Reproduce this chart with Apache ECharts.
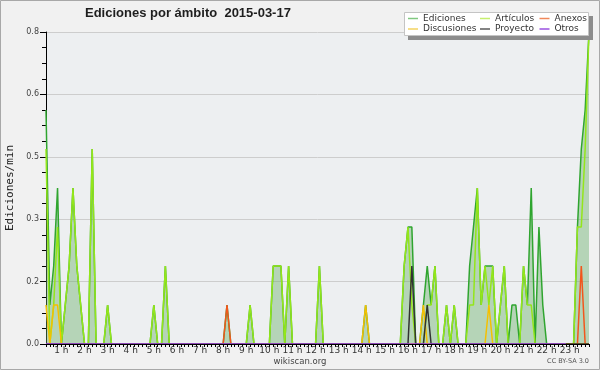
<!DOCTYPE html>
<html><head><meta charset="utf-8">
<script src="https://cdn.jsdelivr.net/npm/echarts/dist/echarts.min.js"></script>
<style>html,body{margin:0;padding:0;background:#f1f1f1}#c{width:600px;height:370px}</style>
</head><body><div id="c"></div>
<script>
// 10-minute bins, 00:20 .. 23:50
const times = [
'00:20','00:30','00:40','00:50',
'01:00','01:10','01:20','01:30','01:40','01:50',
'02:00','02:10','02:20','02:30','02:40','02:50',
'03:00','03:10','03:20','03:30','03:40','03:50',
'04:00','04:10','04:20','04:30','04:40','04:50',
'05:00','05:10','05:20','05:30','05:40','05:50',
'06:00','06:10','06:20','06:30','06:40','06:50',
'07:00','07:10','07:20','07:30','07:40','07:50',
'08:00','08:10','08:20','08:30','08:40','08:50',
'09:00','09:10','09:20','09:30','09:40','09:50',
'10:00','10:10','10:20','10:30','10:40','10:50',
'11:00','11:10','11:20','11:30','11:40','11:50',
'12:00','12:10','12:20','12:30','12:40','12:50',
'13:00','13:10','13:20','13:30','13:40','13:50',
'14:00','14:10','14:20','14:30','14:40','14:50',
'15:00','15:10','15:20','15:30','15:40','15:50',
'16:00','16:10','16:20','16:30','16:40','16:50',
'17:00','17:10','17:20','17:30','17:40','17:50',
'18:00','18:10','18:20','18:30','18:40','18:50',
'19:00','19:10','19:20','19:30','19:40','19:50',
'20:00','20:10','20:20','20:30','20:40','20:50',
'21:00','21:10','21:20','21:30','21:40','21:50',
'22:00','22:10','22:20','22:30','22:40','22:50',
'23:00','23:10','23:20','23:30','23:40','23:50'
];
const ediciones = [
0.6,0.1,0.2,0.4,
0,0.1,0.2,0.4,0.2,0.1,
0,0,0.5,0,0,0,
0.1,0,0,0,0,0,
0,0,0,0,0,0,
0.1,0,0,0.2,0,0,
0,0,0,0,0,0,
0,0,0,0,0,0,
0,0.1,0,0,0,0,
0,0.1,0,0,0,0,
0,0.2,0.2,0.2,0,0.2,
0,0,0,0,0,0,
0,0.2,0,0,0,0,
0,0,0,0,0,0,
0,0.1,0,0,0,0,
0,0,0,0,0,0.2,
0.3,0.3,0,0,0.1,0.2,
0.1,0.2,0,0,0.1,0,
0.1,0,0,0,0.2,0.3,
0.4,0.1,0.2,0.2,0.2,0,
0.1,0.2,0,0.1,0.1,0,
0.2,0.1,0.4,0,0.3,0.1,
0,0,0,0,0,0,
0,0,0.3,0.5,0.6,0.8
];
const articulos = [
0.5,0,0.1,0.3,
0,0.1,0.2,0.4,0.2,0.1,
0,0,0.5,0,0,0,
0.1,0,0,0,0,0,
0,0,0,0,0,0,
0.1,0,0,0.2,0,0,
0,0,0,0,0,0,
0,0,0,0,0,0,
0,0,0,0,0,0,
0,0.1,0,0,0,0,
0,0.2,0.2,0.2,0,0.2,
0,0,0,0,0,0,
0,0.2,0,0,0,0,
0,0,0,0,0,0,
0,0,0,0,0,0,
0,0,0,0,0,0.2,
0.3,0.1,0,0,0,0.1,
0.1,0.2,0,0,0.1,0,
0.1,0,0,0,0.1,0.1,
0.4,0.1,0.2,0.1,0.2,0,
0.1,0.2,0,0,0,0,
0.2,0.1,0.1,0,0,0,
0,0,0,0,0,0,
0,0,0.3,0.3,0.5,0.8
];
const anexos = [
0,0,0,0,
0,0,0,0,0,0, 0,0,0,0,0,0, 0,0,0,0,0,0, 0,0,0,0,0,0,
0,0,0,0,0,0, 0,0,0,0,0,0, 0,0,0,0,0,0,
0,0.1,0,0,0,0,
0,0,0,0,0,0, 0,0,0,0,0,0, 0,0,0,0,0,0, 0,0,0,0,0,0,
0,0,0,0,0,0, 0,0,0,0,0,0, 0,0,0,0,0,0, 0,0,0,0,0,0,
0,0,0,0,0,0, 0,0,0,0,0,0, 0,0,0,0,0,0, 0,0,0,0,0,0,
0,0,0,0,0,0, 0,0,0,0,0,0,
0,0,0,0.2,0,0
];
const discusiones = [
0.1,0,0.1,0.1,
0,0,0,0,0,0, 0,0,0,0,0,0, 0,0,0,0,0,0, 0,0,0,0,0,0,
0,0,0,0,0,0, 0,0,0,0,0,0, 0,0,0,0,0,0, 0,0,0,0,0,0,
0,0,0,0,0,0, 0,0,0,0,0,0, 0,0,0,0,0,0, 0,0,0,0,0,0,
0,0,0,0,0,0,
0,0.1,0,0,0,0,
0,0,0,0,0,0,
0,0,0,0,0.1,0,
0,0,0,0,0,0, 0,0,0,0,0,0,
0,0,0,0.1,0,0,
0,0,0,0,0,0, 0,0,0,0,0,0, 0,0,0,0,0,0, 0,0,0,0,0,0
];
const proyecto = [
0,0,0,0,
0,0,0,0,0,0, 0,0,0,0,0,0, 0,0,0,0,0,0, 0,0,0,0,0,0,
0,0,0,0,0,0, 0,0,0,0,0,0, 0,0,0,0,0,0, 0,0,0,0,0,0,
0,0,0,0,0,0, 0,0,0,0,0,0, 0,0,0,0,0,0, 0,0,0,0,0,0,
0,0,0,0,0,0, 0,0,0,0,0,0, 0,0,0,0,0,0,
0,0.2,0,0,0,0.1,
0,0,0,0,0,0, 0,0,0,0,0,0, 0,0,0,0,0,0, 0,0,0,0,0,0,
0,0,0,0,0,0, 0,0,0,0,0,0, 0,0,0,0,0,0
];
const otros = [
0,0,0,0,
0,0,0,0,0,0, 0,0,0,0,0,0, 0,0,0,0,0,0, 0,0,0,0,0,0,
0,0,0,0,0,0, 0,0,0,0,0,0, 0,0,0,0,0,0, 0,0,0,0,0,0,
0,0,0,0,0,0, 0,0,0,0,0,0, 0,0,0,0,0,0, 0,0,0,0,0,0,
0,0,0,0,0,0, 0,0,0,0,0,0, 0,0,0,0,0,0, 0,0,0,0,0,0,
0,0,0,0,0,0, 0,0,0,0,0,0, 0,0,0,0,0,0, 0,0,0,0,0,0,
0,0,0,0,0,0, 0,0,0,0,0,0
];
const yTicks = {min: 0, max: 0.8, step: 0.16};

const chart = echarts.init(document.getElementById('c'), null, {renderer: 'canvas'});
const font = 'DejaVu Sans';
function line(name, data, color, extra) {
  return Object.assign({
    name: name, type: 'line', data: data, symbol: 'none', showSymbol: false,
    lineStyle: {color: color, width: 1.5}, itemStyle: {color: color},
    emphasis: {disabled: true}, z: 2
  }, extra || {});
}
const legendBase = {
  orient: 'vertical', top: 13.5, padding: 0, itemGap: 0.5, itemWidth: 10, itemHeight: 1.5,
  icon: 'rect', selectedMode: false, z: 7,
  textStyle: {fontFamily: font, fontSize: 9, color: '#333', lineHeight: 10}
};
chart.setOption({
  animation: false,
  backgroundColor: '#f1f1f1',
  title: {
    text: 'Ediciones por ámbito  2015-03-17', left: 85, top: 6.5, padding: 0,
    textStyle: {fontFamily: 'Liberation Sans', fontWeight: 'bold', fontSize: 13, color: '#1e1e1e'}
  },
  legend: [
    Object.assign({}, legendBase, {left: 408, data: [
      {name: 'Ediciones', itemStyle: {color: '#80c880'}},
      {name: 'Discusiones', itemStyle: {color: '#f3d361'}}]}),
    Object.assign({}, legendBase, {left: 480, data: [
      {name: 'Artículos', itemStyle: {color: '#c6ef6e'}},
      {name: 'Proyecto', itemStyle: {color: '#5a5a5a'}}]}),
    Object.assign({}, legendBase, {left: 539.5, data: [
      {name: 'Anexos', itemStyle: {color: '#f0885a'}},
      {name: 'Otros', itemStyle: {color: '#9a50e0'}}]})
  ],
  grid: {left: 46, right: 11, top: 32, bottom: 26, containLabel: false, outerBoundsMode: 'none', show: true,
         backgroundColor: '#edeff1', borderWidth: 0},
  xAxis: {
    type: 'category', data: times, boundaryGap: false, z: 10,
    axisLine: {lineStyle: {color: '#000', width: 1}},
    axisTick: {show: true, interval: 0, length: 3, lineStyle: {color: '#000'}},
    axisLabel: {
      interval: (i, v) => v.endsWith(':00'),
      formatter: v => parseInt(v, 10) + ' h',
      fontFamily: font, fontSize: 9, color: '#333', margin: 2.5
    },
    splitLine: {show: false}
  },
  yAxis: {
    type: 'value', min: yTicks.min, max: yTicks.max, interval: yTicks.step,
    name: 'Ediciones/min', nameLocation: 'middle', nameRotate: 90, nameGap: 29.5,
    nameTextStyle: {fontFamily: 'DejaVu Sans Mono', fontSize: 11, color: '#222'},
    axisLine: {show: true, lineStyle: {color: '#000', width: 1}},
    axisTick: {show: true, length: 6, lineStyle: {color: '#000'}},
    minorTick: {show: true, splitNumber: 4, length: 4, lineStyle: {color: '#000'}},
    axisLabel: {formatter: v => v.toFixed(1), fontFamily: font, fontSize: 8, color: '#444', margin: 7},
    splitLine: {show: true, lineStyle: {color: '#cdcdcd', width: 1}}
  },
  series: [
    line('Ediciones', ediciones, '#2fa52f', {areaStyle: {color: 'rgba(105,174,103,0.6)'}}),
    line('Artículos', articulos, '#94e61a'),
    line('Anexos', anexos, '#f2561c'),
    line('Discusiones', discusiones, '#f5c000'),
    line('Proyecto', proyecto, '#333333'),
    line('Otros', otros, '#9b45e4')
  ],
  graphic: [
    {type: 'rect', z: 5, shape: {x: 408, y: 16, width: 185, height: 24}, style: {fill: '#8c8c8c'}},
    {type: 'rect', z: 6, shape: {x: 404.5, y: 12.5, width: 184, height: 23}, style: {fill: '#ffffff', stroke: '#c4c4c4', lineWidth: 1}},
    {type: 'text', z: 6, x: 300, y: 362, style: {text: 'wikiscan.org', fontFamily: font, fontSize: 8.5, fill: '#444', align: 'center', verticalAlign: 'middle'}},
    {type: 'text', z: 6, x: 589, y: 361.5, style: {text: 'CC BY-SA 3.0', fontFamily: font, fontSize: 6.5, fill: '#555', align: 'right', verticalAlign: 'middle'}},
    {type: 'rect', z: 8, shape: {x: 0.5, y: 0.5, width: 599, height: 369}, style: {fill: 'none', stroke: '#a8a8a8', lineWidth: 1}}
  ]
});
</script>
</body></html>
